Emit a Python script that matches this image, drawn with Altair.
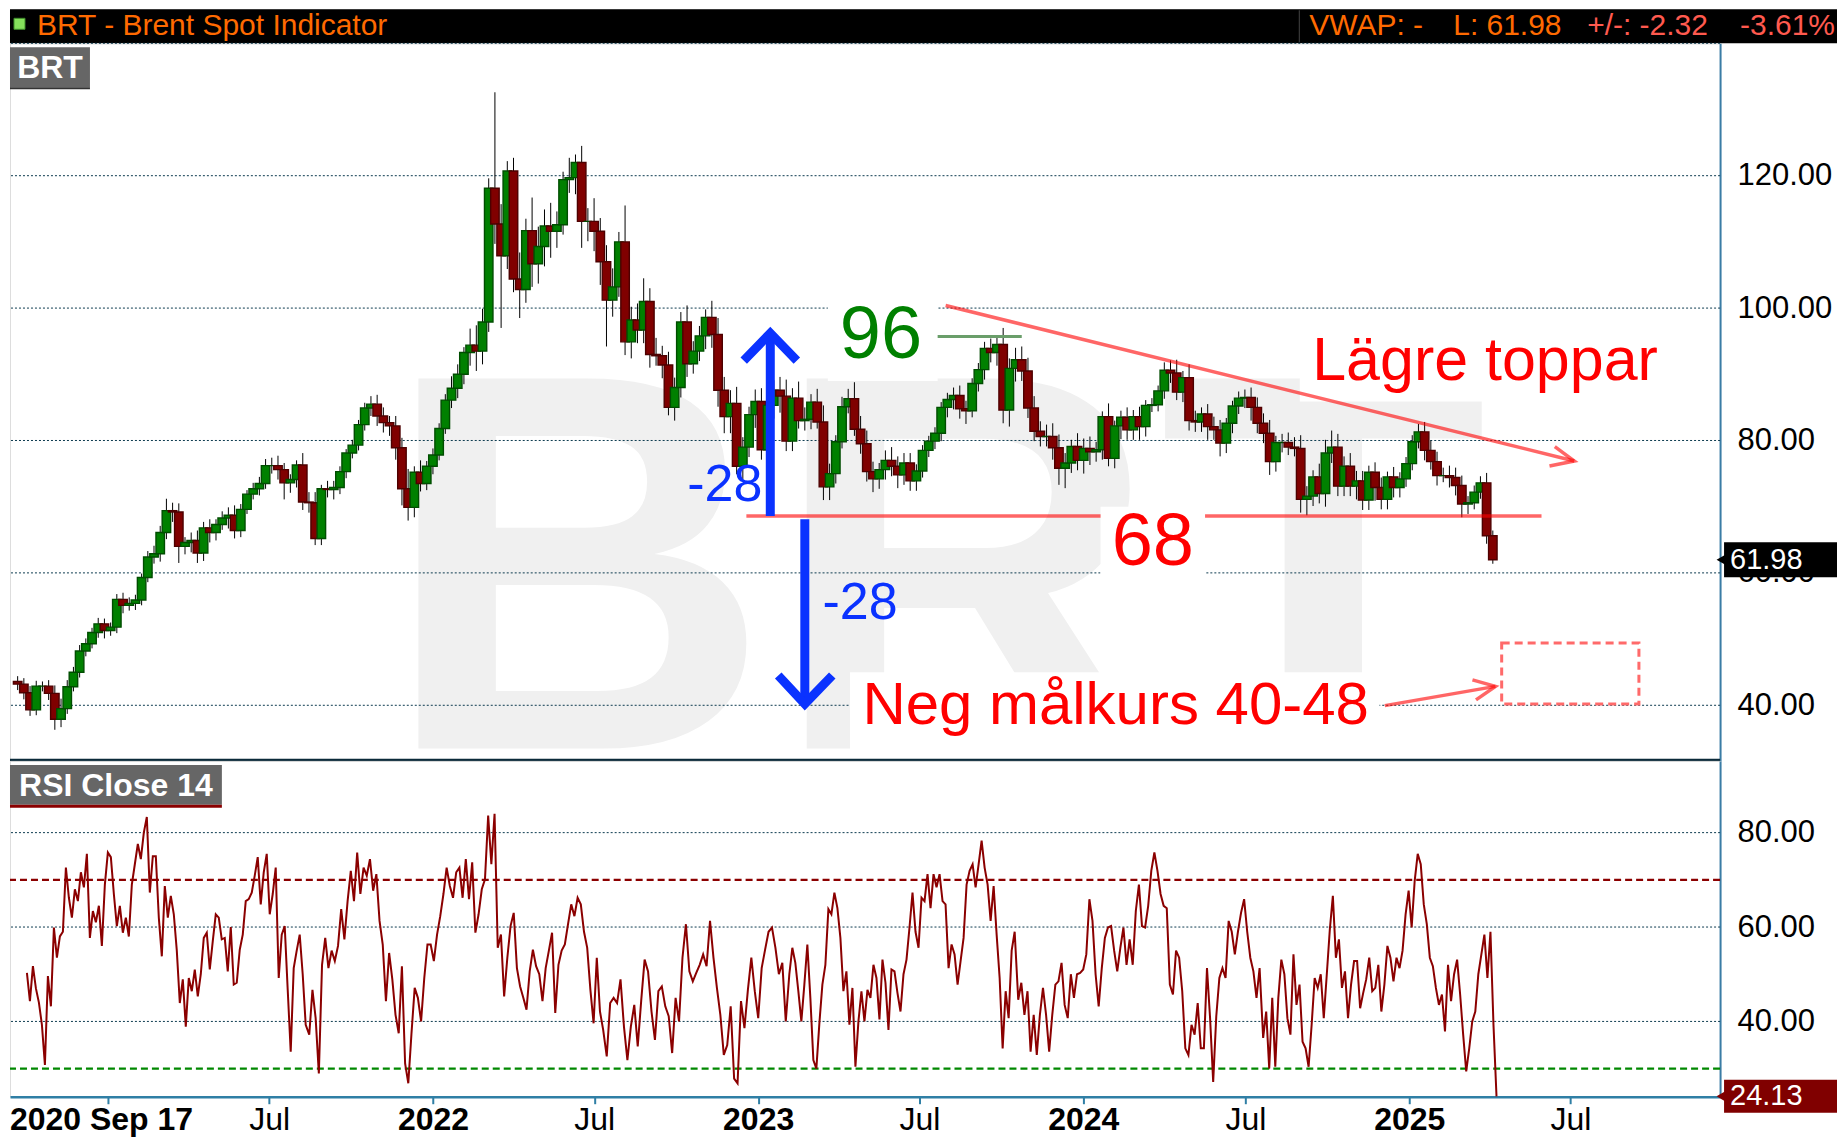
import altair as alt
import pandas as pd

# ---------------- values ----------------
week_start = "2020-09-16"   # first weekly candle (mid-week)
first_open = 43.6

closes = [
    43.2, 41.9, 39.3, 42.9, 42.9, 41.8, 37.9, 39.5, 42.8, 45.0,
    48.2, 49.3, 51.0, 52.3, 51.3, 51.8, 56.0, 55.1, 55.4, 55.9,
    59.3, 62.4, 62.9, 66.1, 69.4, 69.2, 64.0, 64.6, 64.9, 63.0,
    66.8, 66.1, 67.3, 68.3, 68.7, 66.4, 69.6, 71.9, 72.7, 73.5,
    76.2, 76.2, 75.6, 73.6, 74.1, 76.3, 70.7, 70.6, 65.2, 72.7,
    72.6, 72.9, 75.3, 78.1, 79.3, 82.4, 84.9, 85.5, 83.7, 82.7,
    82.2, 78.9, 72.7, 69.9, 75.2, 73.5, 76.1, 77.8, 81.8, 86.1,
    87.9, 90.0, 93.3, 94.4, 93.5, 97.9, 118.1, 112.7, 107.9, 120.7,
    104.4, 102.8, 111.7, 106.7, 109.3, 112.4, 111.6, 112.6, 119.4, 119.7,
    122.0, 113.1, 113.1, 111.6, 107.0, 101.2, 103.2, 110.0, 94.9, 98.2,
    96.7, 101.0, 93.0, 92.8, 91.4, 85.0, 88.0, 97.9, 91.6, 93.5,
    95.8, 98.6, 96.0, 87.6, 83.6, 85.6, 76.1, 79.0, 83.9, 85.9,
    78.6, 85.3, 87.6, 86.7, 79.9, 86.4, 83.0, 83.2, 85.8, 82.8,
    73.0, 75.0, 79.8, 85.1, 86.3, 81.7, 79.5, 75.3, 74.2, 75.6,
    77.0, 76.1, 74.8, 76.6, 73.9, 75.4, 78.5, 79.9, 81.1, 85.0,
    86.2, 86.8, 84.8, 84.5, 88.6, 90.7, 93.9, 93.3, 94.5, 84.6,
    90.9, 92.2, 90.5, 84.9, 81.4, 80.6, 80.6, 78.9, 75.8, 76.6,
    79.1, 77.0, 78.8, 78.3, 78.6, 83.6, 77.3, 82.2, 83.5, 81.6,
    83.6, 82.1, 85.3, 85.4, 87.5, 90.6, 90.2, 87.3, 89.5, 83.0,
    82.8, 84.0, 82.1, 81.6, 79.6, 82.6, 85.2, 86.4, 86.5, 85.0,
    82.6, 81.1, 76.8, 79.7, 79.7, 79.0, 78.8, 71.1, 71.6, 74.5,
    72.0, 78.1, 79.0, 73.1, 76.1, 73.1, 73.9, 71.0, 75.2, 72.9,
    71.1, 74.5, 72.9, 74.2, 76.5, 79.8, 81.3, 78.5, 76.8, 74.7,
    74.7, 74.4, 73.2, 70.4, 70.6, 72.2, 73.6, 65.6, 61.98,
]

wick_up = [
    0.8, 0.9, 1.0, 0.8, 0.7, 0.9, 1.2, 1.5, 1.0, 0.8,
    0.9, 0.8, 0.7, 0.9, 0.8, 0.7, 0.8, 1.0, 0.9, 0.8,
    0.6, 0.9, 1.2, 1.0, 1.8, 1.2, 1.3, 0.8, 1.2, 1.5,
    0.9, 1.3, 0.8, 1.0, 1.2, 1.5, 0.8, 0.6, 0.9, 1.0,
    1.0, 1.2, 1.5, 1.0, 0.8, 0.7, 1.8, 1.5, 1.6, 0.6,
    1.2, 1.0, 0.8, 0.6, 0.8, 0.7, 0.8, 1.2, 1.4, 1.3,
    1.0, 1.5, 1.5, 3.0, 0.9, 1.8, 0.8, 1.0, 0.8, 0.9,
    1.8, 1.5, 0.8, 2.5, 3.0, 2.0, 1.5, 14.5, 3.0, 1.5,
    2.0, 4.0, 1.8, 5.0, 3.0, 2.5, 3.5, 2.0, 1.2, 3.0,
    1.2, 2.5, 2.0, 3.5, 2.0, 2.5, 2.8, 1.5, 5.5, 2.0,
    2.5, 3.5, 2.0, 2.5, 1.5, 2.0, 1.5, 1.5, 2.5, 1.5,
    1.5, 1.2, 2.5, 2.5, 2.0, 2.0, 2.5, 1.5, 1.2, 1.8,
    2.0, 1.0, 1.5, 2.0, 2.5, 1.5, 2.5, 1.8, 1.2, 2.0,
    2.5, 1.5, 1.0, 1.5, 1.5, 2.5, 2.0, 2.0, 1.5, 1.0,
    1.5, 2.0, 1.5, 1.5, 1.5, 1.0, 0.8, 0.8, 0.9, 0.8,
    1.0, 1.2, 1.5, 1.2, 0.8, 1.0, 1.0, 1.5, 1.3, 2.5,
    1.5, 1.8, 2.0, 2.0, 1.8, 1.5, 1.8, 2.0, 2.0, 1.5,
    1.0, 2.0, 1.5, 1.8, 1.2, 0.8, 2.0, 0.8, 1.0, 1.5,
    1.0, 1.5, 0.8, 1.0, 0.8, 1.2, 1.5, 2.0, 1.0, 2.0,
    1.5, 1.0, 1.5, 1.5, 1.5, 0.8, 0.8, 1.0, 1.2, 1.5,
    1.5, 1.5, 2.0, 1.0, 1.3, 1.5, 1.5, 2.0, 1.5, 1.0,
    2.0, 2.0, 2.5, 2.0, 1.5, 2.0, 1.5, 1.5, 1.0, 1.5,
    1.5, 0.8, 1.5, 1.0, 1.0, 1.0, 1.2, 1.5, 1.5, 1.5,
    1.2, 1.5, 1.5, 1.5, 1.0, 1.0, 1.0, 1.5, 0.8,
]

wick_dn = [
    0.9, 1.0, 0.9, 0.8, 0.8, 1.0, 1.6, 1.2, 0.8, 0.7,
    0.8, 0.8, 0.7, 0.8, 1.2, 0.8, 0.9, 1.2, 0.8, 1.0,
    0.8, 0.7, 1.0, 1.2, 1.0, 1.5, 2.5, 1.2, 1.5, 1.5,
    1.2, 1.5, 1.2, 0.8, 1.6, 1.2, 1.0, 0.7, 0.8, 1.0,
    0.8, 1.2, 1.5, 2.5, 1.5, 1.2, 1.2, 1.5, 1.0, 1.0,
    1.2, 1.5, 1.0, 1.0, 0.8, 0.8, 0.9, 1.2, 1.5, 1.5,
    1.5, 1.8, 2.5, 2.0, 1.5, 1.2, 1.0, 1.2, 0.8, 0.8,
    1.2, 1.5, 1.5, 2.0, 3.0, 2.0, 1.5, 3.0, 10.9, 2.0,
    2.0, 4.3, 2.0, 3.5, 3.0, 3.0, 4.0, 2.5, 1.5, 2.0,
    2.5, 4.0, 3.0, 3.0, 3.5, 7.0, 2.5, 1.5, 2.0, 2.5,
    2.0, 2.0, 2.0, 1.5, 2.0, 1.2, 2.0, 1.5, 2.0, 1.5,
    1.5, 2.0, 2.0, 2.5, 2.5, 2.5, 1.2, 2.0, 1.5, 2.0,
    1.5, 1.0, 2.0, 2.5, 1.5, 1.5, 1.2, 1.5, 1.5, 1.0,
    2.0, 2.0, 1.5, 1.0, 1.0, 1.0, 1.5, 1.5, 2.0, 1.5,
    1.5, 1.5, 2.0, 1.5, 1.5, 1.5, 1.0, 1.0, 1.2, 1.2,
    1.5, 1.5, 1.5, 2.0, 1.0, 1.2, 1.5, 1.5, 2.0, 2.0,
    2.5, 2.0, 1.5, 1.5, 1.5, 1.5, 1.5, 1.8, 2.5, 3.0,
    1.5, 1.5, 2.0, 2.0, 1.5, 1.5, 1.2, 1.5, 2.0, 1.5,
    1.5, 2.0, 1.5, 1.0, 1.0, 1.2, 1.5, 1.2, 1.5, 1.5,
    1.5, 1.5, 2.0, 1.5, 2.0, 1.5, 1.5, 1.2, 1.5, 2.0,
    1.5, 1.5, 2.0, 1.5, 1.5, 1.2, 1.2, 2.0, 2.4, 1.5,
    1.5, 2.0, 1.5, 1.5, 1.5, 1.5, 2.0, 1.5, 1.5, 2.0,
    1.5, 1.5, 1.5, 1.5, 1.2, 1.0, 1.0, 1.5, 1.2, 1.5,
    1.0, 1.5, 1.5, 2.0, 1.5, 1.0, 1.0, 1.2, 0.6,
]

rsi_seg1 = [50.3, 44.3, 51.7, 47, 44, 39.3, 30.8, 49.6, 43.2, 59.9, 53.5, 58, 59, 72.6, 66.2, 62, 68, 65.5,
            71.6, 68.4, 75.5, 57.7, 63.4, 61, 64.5, 56, 69, 75.8, 74.8, 67, 60.2, 64.5, 58.8, 62, 58, 69,
            73.3, 77.6, 74.4, 80, 83.3, 67.3, 75, 75, 62, 53.8, 68.7, 62, 66.6, 62.7, 55, 43.9, 48.9, 38.9,
            49.2, 46.4, 51, 45.3, 50, 57.7, 58.8, 51, 57, 62.7, 62, 57.4, 57.7, 50.6, 60, 47.8, 48.2, 55.2,
            58.4, 65.5, 65.9, 67.3, 70.9, 74.8, 64.8, 71.6, 75.5, 62.7, 67, 72.6, 49.2, 58.4, 60.2, 46.7,
            33.6, 51.3, 55, 58.4, 50, 39.3]
rsi_seg2 = [37.2, 46.7, 40.7, 29, 52, 57.7, 51.3, 55, 52.8, 56, 63.8, 57.4, 65.5, 71.9, 65.5, 75.8, 67, 72.6,
            70.9, 74.4, 67.7, 71.2, 61.3, 56.3, 44.3, 54.5, 48.9, 41.4, 37.5, 51.7, 31.1, 26.9, 37.5, 47.1,
            45, 40, 49.2, 56.3, 56.3, 52.8, 58.4, 62.3, 67, 72.6, 68.7, 66.2, 71.6, 72.6, 66.2, 74.4, 65.9,
            73.7, 58.8, 62.7, 68, 70.1, 83.6, 73.3, 84, 55.6, 58.4, 45.3, 53.5, 60.2, 63, 51.3, 47.4, 45,
            42.5, 50.6, 55.2, 51.7, 50, 44.3, 51.3, 55, 58.8, 41.8, 52, 55, 56.3, 60.6, 64.8, 62.3, 66.2,
            64.8, 59, 55.6, 46.7, 39.6, 53.5, 42.1, 38.2]
rsi_seg3 = [32.6, 43.9, 45, 43.9, 48.9, 38.9, 31.8, 38.9, 43.5, 34.7, 44.3, 53.1, 50.6, 42.1, 36.1, 46.4,
            47.4, 43.2, 41.1, 33.3, 45, 40, 53.5, 60.6, 50.6, 48.5, 50.3, 52, 54.2, 51.7, 61.3, 53.5, 47.1,
            41.4, 32.9, 35, 43.2, 27.9, 26.9, 44.3, 38.6, 46.7, 53.5, 46.4, 40.7, 51.3, 55.2, 59, 59.9,
            55.6, 50, 52.4, 40]
rsi_seg4 = [50, 55.6, 52.4, 46.4, 40, 47.8, 56.3, 45, 31.8, 30, 39.6, 47.8, 52, 63.8, 62.7, 67.3, 64, 57.7,
            46.4, 50.6, 39.3, 47.1, 30.4, 40, 46.4, 40, 46.7, 45, 52, 49.2, 40.4, 53.1, 48.2, 38.2, 51, 50.6,
            46, 42.1, 50, 53.1, 59.9, 67.3, 59, 55.6, 66.2, 65.5, 71.2, 64, 71.2, 68.4, 71.2, 65.5, 64.8,
            51.3, 56.3, 54.2, 47.8, 52.8, 57.7, 69, 71.9, 73.3, 68.4, 73.3, 78.3, 72.6, 69, 61.3, 68.7,
            58.4, 49.2, 34.3, 46.4, 40.7, 55, 59]
rsi_seg5 = [44.6, 48.2, 41.4, 46.4, 33.6, 41.4, 32.9, 41.4, 47.1, 41.4, 33.6, 41.4, 47.8, 48.5, 52.4, 43.5,
            40.7, 50, 45, 50, 50.3, 51, 54.2, 65.9, 61.3, 50, 43.2, 51.3, 57.7, 59.9, 60.2, 55, 50.6, 55.6,
            59.9, 52, 57.4, 52, 63.4, 69, 60.2, 59.9, 64.5, 71.9, 75.8, 71.9, 67, 64.5, 64, 47.8, 45.7, 55,
            53.5, 46.4, 34.3, 32.9, 39.3, 37.2, 43.9, 34.3, 34.3, 51.3, 40.7, 27.2, 41.1, 49.2, 51.3, 49.2,
            61.3, 59, 54.2, 59, 63, 65.9, 59, 53.5, 50.6, 45, 51.3]
rsi_seg6 = [36.5, 42.1, 30, 45, 30.4, 45, 53.1, 50, 40.7, 37.2, 54.2, 43.5, 47.8, 35.7, 34.3, 30.4, 39.3,
            49.2, 47.1, 50, 40.7, 50, 59.5, 66.6, 53.5, 57.4, 47.1, 50.6, 40.7, 47.8, 52.8, 52.8, 42.8, 46,
            48.9, 53.5, 46.4, 47.1, 52, 42.1, 47.8, 56, 53.5, 48.5, 53.5, 51.3, 55, 62.7, 67.7, 59.9, 69.8,
            75.5, 73.3, 64.8, 60.6, 53.5, 51.7, 47.1, 43.5, 45.7, 37.9, 52, 44.3, 50, 53.1, 45.7, 37.2,
            29.4, 34.3, 40, 42.1, 50, 54.2, 58.4, 49.2, 59, 39.3, 24.13]
rsi_segs = [rsi_seg1, rsi_seg2, rsi_seg3, rsi_seg4, rsi_seg5, rsi_seg6]
rsi_seg_dates = [("2020-10-02", "2021-08-11"), ("2021-08-15", "2022-07-11"), ("2022-07-15", "2023-02-01"),
                 ("2023-02-05", "2023-10-16"), ("2023-10-20", "2024-07-17"), ("2024-07-21", "2025-04-09")]

price_grid = [40, 60, 80, 100, 120, 140]
price_labels = [40, 60, 80, 100, 120]
rsi_grid = [40, 60, 80]
rsi_upper, rsi_lower = 70, 30
last_price, last_rsi = 61.98, 24.13
month_ticks = [(2021, 1), (2021, 7), (2022, 1), (2022, 7), (2023, 1), (2023, 7),
               (2024, 1), (2024, 7), (2025, 1), (2025, 7)]

# annotations (dates / price levels)
white_boxes = [("2023-03-20", "2023-07-22", 89.0, 100.9), ("2024-01-22", "2024-05-19", 58.0, 70.0),
               ("2024-09-03", "2025-10-16", 85.9, 98.2), ("2023-04-14", "2024-12-02", 31.6, 45.0)]
red_segments = [("2022-12-18", 68.6, "2024-01-22", 68.6), ("2024-05-19", 68.6, "2025-06-03", 68.6),
                ("2023-07-31", 100.4, "2025-07-10", 76.9), ("2024-12-08", 39.95, "2025-04-12", 42.86)]
red_heads = [[("2025-06-18", 79.06), ("2025-07-10", 76.9), ("2025-06-12", 76.15)],
             [("2025-03-17", 43.83), ("2025-04-12", 42.86), ("2025-03-21", 40.81)]]
target_box = ("2025-04-19", "2025-09-21", 40.2, 49.4)
blue_shafts = [("2023-01-14", 68.6, 96.2), ("2023-02-22", 68.1, 40.2)]
blue_heads = [[("2022-12-15", 92.06), ("2023-01-14", 96.2), ("2023-02-13", 92.06)],
              [("2023-01-23", 44.5), ("2023-02-22", 40.2), ("2023-03-25", 44.5)]]
green_line = ("2023-07-22", "2023-10-25", 95.7)
watermark = ("2023-07-19", 33.47, "BRT")
texts_red = [("2024-03-21", 61.2, "68", "center", 74), ("2024-09-17", 89.2, "Lägre toppar", "left", 61),
             ("2023-04-28", 37.2, "Neg målkurs 40-48", "left", 60)]
text_green = ("2023-05-19", 92.45, "96")
texts_blue = [("2023-01-05", 73.26, "-28", "right"), ("2023-03-14", 55.4, "-28", "left")]

# ---------------- layout ----------------
W = 1711
H_HEAD = 34
H_PRICE = 718
H_RSI = 336
FULLW = 1828
FONT = "Liberation Sans"
RED = "#ff0000"
BLUE = "#0a32ff"

xscale = alt.Scale(type="utc", domain=[alt.DateTime(year=2020, month=9, date=13, utc=True),
                                       alt.DateTime(year=2025, month=12, date=16, utc=True)])
pscale = alt.Scale(domain=[31.6, 140], nice=False, zero=False)
rscale = alt.Scale(domain=[24.05, 95.2], nice=False, zero=False)

paxis = alt.Axis(orient="right", values=price_labels, format=".2f", grid=False, ticks=False,
                 labelPadding=17, labelFontSize=31, labelFont=FONT, labelColor="black",
                 labelAlign="left", labelBaseline="middle", domainColor="#3a7ca5", domainWidth=2,
                 title=None, labelOverlap=False, labelFlush=False)
raxis = alt.Axis(orient="right", values=rsi_grid, format=".2f", grid=False, ticks=False,
                 labelPadding=17, labelFontSize=31, labelFont=FONT, labelColor="black",
                 labelAlign="left", labelBaseline="middle", domainColor="#3a7ca5", domainWidth=2,
                 title=None, labelOverlap=False, labelFlush=False)
xaxis = alt.Axis(values=[alt.DateTime(year=y, month=m, date=1, utc=True) for y, m in month_ticks],
                 labelExpr="utcmonth(datum.value) == 0 ? (utcyear(datum.value) == 2021 ? '' : '' + utcyear(datum.value)) : 'Jul'",
                 labelFontWeight={"condition": {"test": "utcmonth(datum.value) == 0", "value": "bold"},
                                  "value": "normal"},
                 labelFontSize=32, labelFont=FONT, labelColor="black", labelAlign="center",
                 labelPadding=1, tickSize=7, tickWidth=2, tickColor="#2f7fa5",
                 domainColor="#2f7fa5", domainWidth=2.5, grid=False, title=None,
                 labelOverlap=False, labelFlush=False, labelBound=False)

PX = alt.X("date:T", scale=xscale, axis=None)
PY = alt.Y("v:Q", scale=pscale, axis=paxis)
RX = alt.X("date:T", scale=xscale, axis=xaxis)
RY = alt.Y("v:Q", scale=rscale, axis=raxis)

one = pd.DataFrame({"k": [0]})

# ---------------- header ----------------
HF = 28
HB = 26
header = alt.layer(
    alt.Chart(one).mark_rect(color="black").encode(
        x=alt.value(0), x2=alt.value(FULLW), y=alt.value(0), y2=alt.value(H_HEAD)),
    alt.Chart(one).mark_rect(fill="#86e05c", stroke="#3f8f2a", strokeWidth=1).encode(
        x=alt.value(4), x2=alt.value(15), y=alt.value(9), y2=alt.value(20)),
    alt.Chart(one).mark_text(text="BRT - Brent Spot Indicator", font=FONT, fontSize=HF + 2, color="#ff6a00",
                             align="left", baseline="alphabetic").encode(x=alt.value(27), y=alt.value(HB)),
    alt.Chart(one).mark_rule(color="#444444", strokeWidth=1).encode(
        x=alt.value(1290), y=alt.value(1), y2=alt.value(33)),
    alt.Chart(one).mark_text(text="VWAP: -", font=FONT, fontSize=HF + 2, color="#ff6a00",
                             align="left", baseline="alphabetic").encode(x=alt.value(1300), y=alt.value(HB)),
    alt.Chart(one).mark_text(text="L: 61.98", font=FONT, fontSize=HF + 2, color="#ff6a00",
                             align="left", baseline="alphabetic").encode(x=alt.value(1444), y=alt.value(HB)),
    alt.Chart(one).mark_text(text="+/-: -2.32", font=FONT, fontSize=HF + 2, color="#ff5a4f",
                             align="left", baseline="alphabetic").encode(x=alt.value(1578), y=alt.value(HB)),
    alt.Chart(one).mark_text(text="-3.61%", font=FONT, fontSize=HF + 2, color="#ff5a4f",
                             align="right", baseline="alphabetic").encode(x=alt.value(1826), y=alt.value(HB)),
).properties(width=W, height=H_HEAD)

# ---------------- price data ----------------
n = min(len(closes), len(wick_up), len(wick_dn))
dates = pd.date_range(week_start, periods=n, freq="7D")
opens = [first_open] + closes[:n - 1]
rows = []
for i in range(n):
    o, c = opens[i], closes[i]
    rows.append({"date": dates[i].strftime("%Y-%m-%d"), "open": o, "close": c,
                 "high": max(o, c) + wick_up[i], "low": min(o, c) - wick_dn[i], "up": bool(c >= o)})
candles = pd.DataFrame(rows)

wm_df = pd.DataFrame([{"date": watermark[0], "v": watermark[1], "t": watermark[2]}])
grid_df = pd.DataFrame({"v": price_grid})
box_df = pd.DataFrame([{"date": a, "date2": b, "v": lo, "v2": hi} for a, b, lo, hi in white_boxes])
redseg_df = pd.DataFrame([{"date": a, "v": va, "date2": b, "v2": vb} for a, va, b, vb in red_segments])
redhead_df = pd.DataFrame([{"date": d, "v": v, "g": gi, "o": j}
                           for gi, pts in enumerate(red_heads) for j, (d, v) in enumerate(pts)])
tbox_df = pd.DataFrame([{"date": target_box[0], "date2": target_box[1], "v": target_box[2], "v2": target_box[3]}])
bshaft_df = pd.DataFrame([{"date": d, "v": a, "v2": b} for d, a, b in blue_shafts])
bhead_df = pd.DataFrame([{"date": d, "v": v, "g": gi, "o": j}
                         for gi, pts in enumerate(blue_heads) for j, (d, v) in enumerate(pts)])
gline_df = pd.DataFrame([{"date": green_line[0], "date2": green_line[1], "v": green_line[2]}])

up_fill = alt.condition("datum.up", alt.value("#008000"), alt.value("#800000"))
up_stroke = alt.condition("datum.up", alt.value("#004d00"), alt.value("#4d0000"))

p_layers = [
    alt.Chart(wm_df).mark_text(font=FONT, fontWeight="bold", fontSize=538, color="#f0f0f0",
                               align="center", baseline="alphabetic").encode(x=PX, y=PY, text="t:N"),
    alt.Chart(grid_df).mark_rule(color="#0d3b4f", strokeWidth=1, strokeDash=[2, 2]).encode(y=PY),
    alt.Chart(box_df).mark_rect(color="white").encode(x=PX, x2="date2:T", y=PY, y2="v2:Q"),
    alt.Chart(candles).mark_rule(color="black", strokeWidth=1).encode(
        x=PX, y=alt.Y("low:Q", scale=pscale, axis=paxis), y2="high:Q"),
    alt.Chart(candles).mark_bar(size=8.5, strokeWidth=1.4).encode(
        x=PX, y=alt.Y("open:Q", scale=pscale, axis=paxis), y2="close:Q", fill=up_fill, stroke=up_stroke),
    alt.Chart(redseg_df).mark_rule(color=RED, opacity=0.6, strokeWidth=3.5).encode(
        x=PX, x2="date2:T", y=PY, y2="v2:Q"),
    alt.Chart(redhead_df).mark_line(color=RED, opacity=0.6, strokeWidth=3.5, strokeJoin="miter").encode(
        x=PX, y=PY, detail="g:N", order="o:Q"),
    alt.Chart(tbox_df).mark_rect(fillOpacity=0, stroke="#ff6a6a", strokeWidth=3, strokeDash=[8, 5]).encode(
        x=PX, x2="date2:T", y=PY, y2="v2:Q"),
    alt.Chart(bshaft_df).mark_rule(color=BLUE, strokeWidth=9).encode(x=PX, y=PY, y2="v2:Q"),
    alt.Chart(bhead_df).mark_line(color=BLUE, strokeWidth=9, strokeJoin="miter", strokeCap="butt").encode(
        x=PX, y=PY, detail="g:N", order="o:Q"),
    alt.Chart(gline_df).mark_rule(color="#6a9e6a", strokeWidth=3).encode(x=PX, x2="date2:T", y=PY),
    alt.Chart(pd.DataFrame([{"date": text_green[0], "v": text_green[1], "t": text_green[2]}])).mark_text(
        font=FONT, fontSize=74, color="#008000", align="center", baseline="alphabetic").encode(
        x=PX, y=PY, text="t:N"),
]
for d, v, t, al, fs in texts_red:
    p_layers.append(alt.Chart(pd.DataFrame([{"date": d, "v": v, "t": t}])).mark_text(
        font=FONT, fontSize=fs, color=RED, align=al, baseline="alphabetic").encode(x=PX, y=PY, text="t:N"))
for d, v, t, al in texts_blue:
    p_layers.append(alt.Chart(pd.DataFrame([{"date": d, "v": v, "t": t}])).mark_text(
        font=FONT, fontSize=52, color=BLUE, align=al, baseline="middle").encode(x=PX, y=PY, text="t:N"))

lp_df = pd.DataFrame([{"v": last_price + 2.64, "v2": last_price - 2.64, "c": last_price,
                       "t": f"{last_price:.2f}"}])
p_layers += [
    alt.Chart(one).mark_rule(color="#0b2a3a", strokeWidth=2.5).encode(
        x=alt.value(0), x2=alt.value(W), y=alt.value(H_PRICE - 1)),
    alt.Chart(one).mark_rect(color="#666666").encode(
        x=alt.value(0), x2=alt.value(80), y=alt.value(4), y2=alt.value(44)),
    alt.Chart(one).mark_rect(color="#333333").encode(
        x=alt.value(0), x2=alt.value(80), y=alt.value(44), y2=alt.value(46)),
    alt.Chart(one).mark_text(text="BRT", font=FONT, fontWeight="bold", fontSize=32, color="white",
                             align="center", baseline="alphabetic").encode(x=alt.value(40), y=alt.value(35)),
    alt.Chart(lp_df).mark_rect(color="black").encode(
        x=alt.value(W + 4), x2=alt.value(FULLW), y=alt.Y("v:Q", scale=pscale, axis=paxis), y2="v2:Q"),
    alt.Chart(lp_df).mark_point(shape="triangle-left", filled=True, size=160, color="black", opacity=1).encode(
        x=alt.value(W + 2), y=alt.Y("c:Q", scale=pscale, axis=paxis)),
    alt.Chart(lp_df).mark_text(font=FONT, fontSize=29, color="white", align="left", baseline="middle").encode(
        x=alt.value(W + 10), y=alt.Y("c:Q", scale=pscale, axis=paxis), text="t:N"),
]
price = alt.layer(*p_layers).properties(width=W, height=H_PRICE)

# ---------------- RSI ----------------
rsi_rows = []
for seg, (a, b) in zip(rsi_segs, rsi_seg_dates):
    ds = pd.date_range(a, b, periods=len(seg))
    for d, v in zip(ds, seg):
        rsi_rows.append({"date": d.strftime("%Y-%m-%dT%H:%M:%SZ"), "v": v})
rsi_df = pd.DataFrame(rsi_rows)

lr_df = pd.DataFrame([{"v": last_rsi + 3.5, "v2": last_rsi - 3.5, "c": last_rsi, "t": f"{last_rsi:.2f}"}])
RYc = alt.Y("c:Q", scale=rscale, axis=raxis)

r_layers = [
    alt.Chart(pd.DataFrame({"v": rsi_grid})).mark_rule(color="#0d3b4f", strokeWidth=1, strokeDash=[2, 2]).encode(y=RY),
    alt.Chart(pd.DataFrame({"v": [rsi_upper]})).mark_rule(color="#8b0000", strokeWidth=2.2, strokeDash=[7, 4]).encode(y=RY),
    alt.Chart(pd.DataFrame({"v": [rsi_lower]})).mark_rule(color="#008800", strokeWidth=2.2, strokeDash=[7, 4]).encode(y=RY),
    alt.Chart(rsi_df).mark_line(color="#8b0000", strokeWidth=2).encode(x=RX, y=RY),
    alt.Chart(one).mark_rect(color="#666666").encode(
        x=alt.value(0), x2=alt.value(212), y=alt.value(4), y2=alt.value(44)),
    alt.Chart(one).mark_rect(color="#8b0000").encode(
        x=alt.value(0), x2=alt.value(212), y=alt.value(44), y2=alt.value(47)),
    alt.Chart(one).mark_text(text="RSI Close 14", font=FONT, fontWeight="bold", fontSize=32, color="white",
                             align="center", baseline="alphabetic").encode(x=alt.value(106), y=alt.value(35)),
    alt.Chart(one).mark_text(text="2020 Sep 17", font=FONT, fontWeight="bold", fontSize=32, color="black",
                             align="left", baseline="top").encode(x=alt.value(0), y=alt.value(H_RSI + 8)),
    alt.Chart(lr_df).mark_rect(color="#800000").encode(
        x=alt.value(W + 4), x2=alt.value(FULLW), y=alt.Y("v:Q", scale=rscale, axis=raxis), y2="v2:Q"),
    alt.Chart(lr_df).mark_point(shape="triangle-left", filled=True, size=160, color="#800000", opacity=1).encode(
        x=alt.value(W + 2), y=RYc),
    alt.Chart(lr_df).mark_text(font=FONT, fontSize=29, color="white", align="left", baseline="middle").encode(
        x=alt.value(W + 10), y=RYc, text="t:N"),
]
rsi = alt.layer(*r_layers).properties(width=W, height=H_RSI)

chart = alt.vconcat(header, price, rsi, spacing=0, bounds="flush").properties(
    padding={"left": 0, "top": 0, "right": 0, "bottom": 0}
).configure_view(stroke=None).configure(font=FONT, background="white")

chart.save("out.html", embed_options={"renderer": "svg", "actions": False})
